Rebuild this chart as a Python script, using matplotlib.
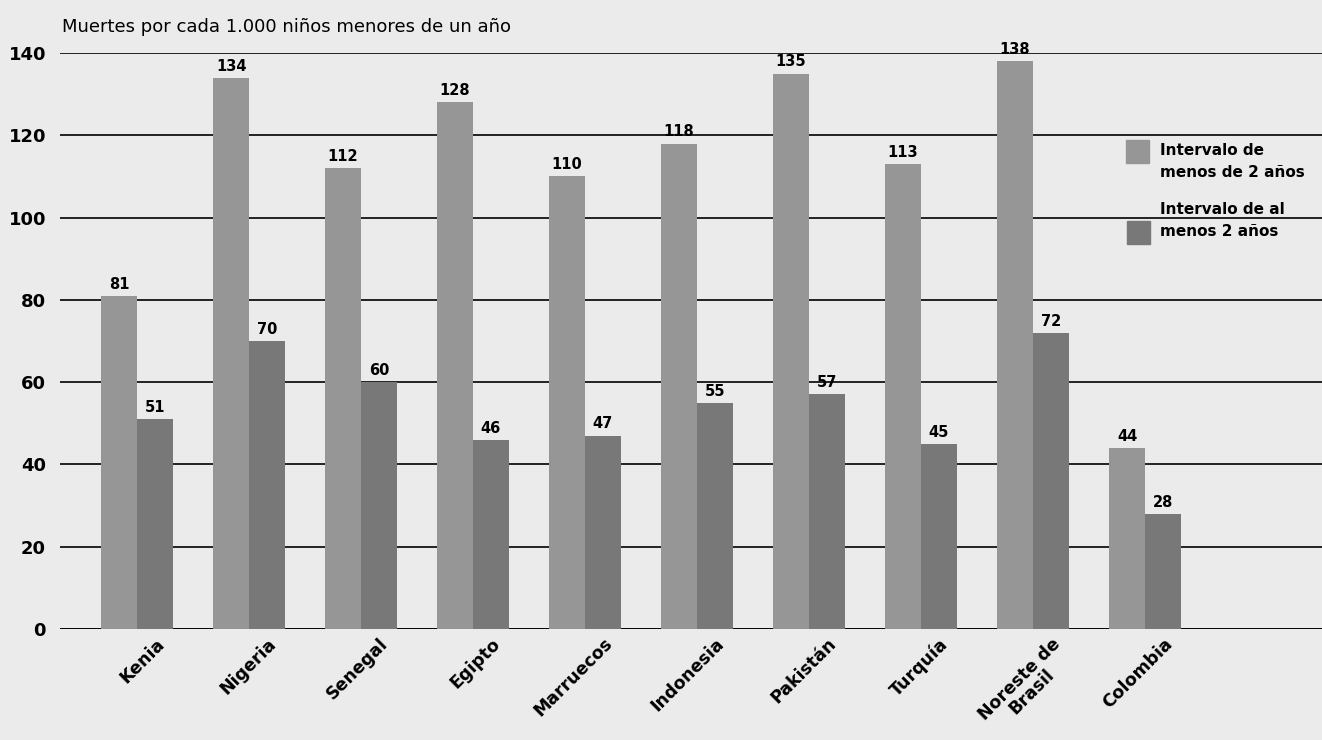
import matplotlib
matplotlib.use("Agg")
import matplotlib.pyplot as plt
from matplotlib.patches import Rectangle
import numpy as np

# --- data ---
paises = ["Kenia", "Nigeria", "Senegal", "Egipto", "Marruecos", "Indonesia",
          "Pakistán", "Turquía", "Noreste de\nBrasil", "Colombia"]
menos_2 = [81, 134, 112, 128, 110, 118, 135, 113, 138, 44]
al_menos_2 = [51, 70, 60, 46, 47, 55, 57, 45, 72, 28]
series = ["Intervalo de\nmenos de 2 años", "Intervalo de al\nmenos 2 años"]
yticks = [0, 20, 40, 60, 80, 100, 120, 140]
titulo = "Muertes por cada 1.000 niños menores de un año"

bg = "#ebebeb"
c_light = "#969696"
c_dark = "#787878"

W, H = 1322, 740
fig = plt.figure(figsize=(W / 100, H / 100), dpi=100, facecolor=bg)
ax = fig.add_axes([60 / W, 111 / H, 1262 / W, 576 / H], facecolor=bg)

x = np.arange(len(paises))
w = 0.32
ax.bar(x - w / 2, menos_2, width=w, color=c_light, zorder=2)
ax.bar(x + w / 2, al_menos_2, width=w, color=c_dark, zorder=2)

# value labels
for xi, v in zip(x - w / 2, menos_2):
    ax.annotate(str(v), (xi, v), xytext=(0, 3), textcoords="offset points",
                ha="center", va="bottom", fontsize=10.5, fontweight="bold")
for xi, v in zip(x + w / 2, al_menos_2):
    ax.annotate(str(v), (xi, v), xytext=(0, 3), textcoords="offset points",
                ha="center", va="bottom", fontsize=10.5, fontweight="bold")

# axes styling
ax.set_xlim(-0.6875, 10.58)
ax.set_ylim(0, 140)
ax.set_yticks(yticks)
ax.set_yticklabels([str(t) for t in yticks], fontsize=13, fontweight="bold")
ax.tick_params(axis="y", length=0, pad=10)
ax.set_xticks([])
ax.yaxis.grid(True, color="black", lw=1.2)
ax.set_axisbelow(True)
for s in ax.spines.values():
    s.set_visible(False)
ax.axhline(0, color="black", lw=1.2, zorder=1)

# rotated country labels
for xi, name in zip(x, paises):
    ax.annotate(name, (xi, 0), xytext=(13, -4), textcoords="offset points",
                rotation=45, rotation_mode="anchor", ha="right", va="top",
                fontsize=12.5, fontweight="heavy", multialignment="center",
                linespacing=1.0, annotation_clip=False)

# title (unit)
fig.text(62 / W, 1 - 27 / H, titulo, fontsize=13, ha="left", va="center")

# manual legend
fig.patches.append(Rectangle((1126 / W, 1 - 163 / H), 23 / W, 23 / H,
                             transform=fig.transFigure, color=c_light))
fig.patches.append(Rectangle((1127 / W, 1 - 244 / H), 23 / W, 23 / H,
                             transform=fig.transFigure, color=c_dark))
fig.text(1160 / W, 1 - 143 / H, series[0], fontsize=11, fontweight="bold",
         ha="left", va="top", linespacing=1.55)
fig.text(1160 / W, 1 - 202 / H, series[1], fontsize=11, fontweight="bold",
         ha="left", va="top", linespacing=1.55)

fig.savefig("out.png", dpi=100, facecolor=bg)
